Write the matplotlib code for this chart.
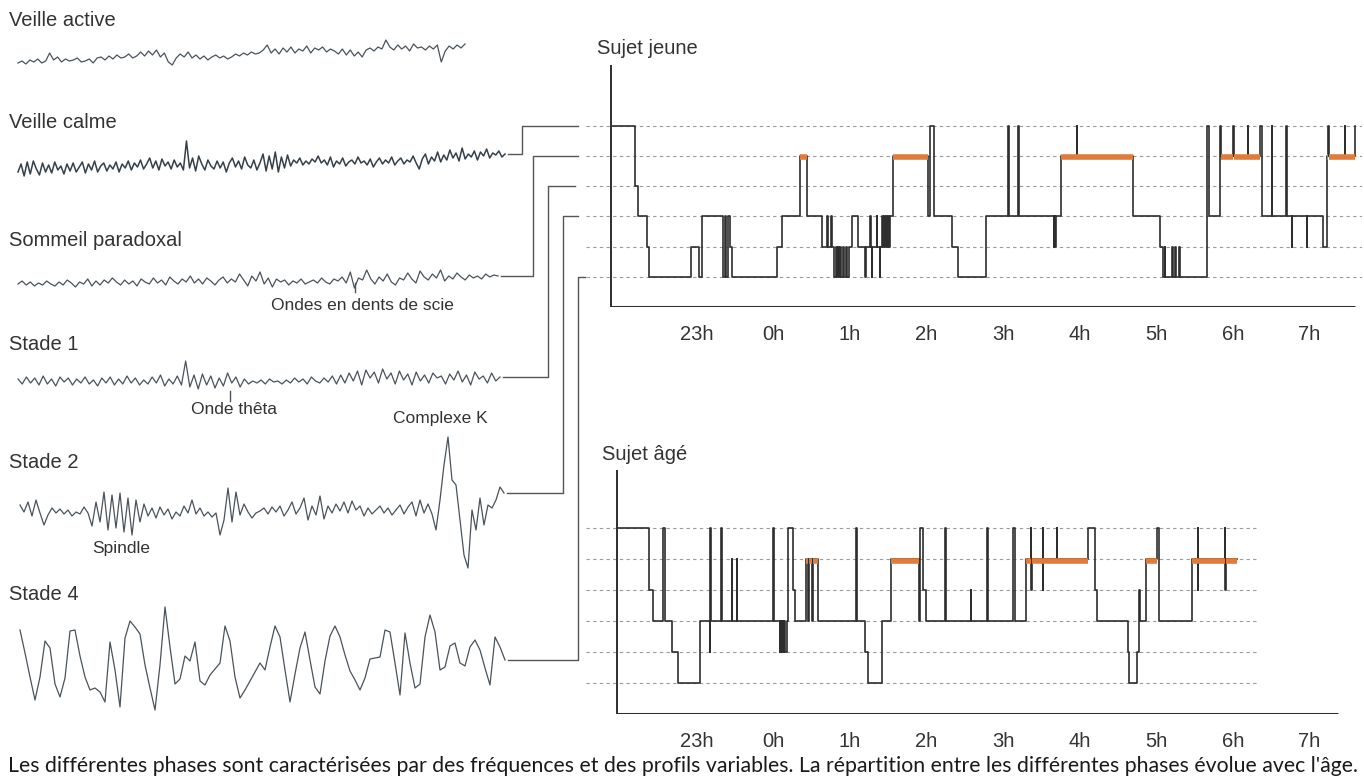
"""
EEG des phases de veille / sommeil et hypnogrammes (sujet jeune / sujet âgé).
"""
import matplotlib
matplotlib.use('Agg')
import matplotlib.pyplot as plt
import numpy as np

W, H = 1364, 781

TEXT_COLOR = '#333333'
TRACE_COLOR = '#4a525b'
HYP_COLOR = '#2e2e2e'
REM_COLOR = '#e07b39'
DASH_COLOR = '#9a9a9a'

# ---------------------------------------------------------------------------
# EEG traces (amplitude, px units, up = positive), sampled evenly over time
# ---------------------------------------------------------------------------
VEILLE_ACTIVE = [-4, -2, -5, -1, -3, 0, -4, -2, 6, -1, 2, -3, 0, -2, -1, 1, -3, -2, 0, -4, 1,
                 2, -1, 3, 0, 4, 1, 2, 5, 1, 3, 7, 3, 8, 4, 9, 2, 6, -3, -6, 1,
                 5, 2, 7, 1, 4, 0, 3, -1, 2, 4, 1, 3, 0, 2, 5, 3, 6, 4, 7, 5, 6, 9, 14, 6,
                 10, 5, 11, 7, 12, 6, 10, 8, 13, 6, 11, 9, 12, 7, 10, 8, 5, 10, 4, 9, 3, 7, 2,
                 9, 11, 8, 12, 10, 19, 12, 9, 14, 10, 13, 8, 15, 11, 12, 9, 13, 10, 14,
                 -3, 8, 13, 10, 14, 11, 15]

VEILLE_CALME = [-6, 2, -10, 4, -8, 5, -3, -9, 3, -6, 1, -7, 4, -4, 0, -8, 2, -5, 3, -6,
                -1, 4, -7, 2, -4, 5, -6, 0, 3, -5, 1, -3, 4, -6, 2, -2, 5, -4, 3, -1,
                6, -3, 2, 8, -2, 5, -4, 7, 0, 4, -3, 6, -1, 3, -4, 25, -2, 8, -5, 10,
                2, -4, 6, 0, -3, 5, -2, 4, -6, 3, 8, -1, 5, -3, 9, 1, -2, 6, -4, 3,
                12, -5, 10, -3, 14, -6, 9, -2, 11, 0, 6, 3, 8, 1, 5, 2, 7, 4, 10, 3,
                6, 1, 9, -1, 5, 2, 8, 0, 4, 6, 2, 9, 3, 5, 1, 7, -1, 4, 8, 2,
                6, 3, 9, 1, 5, 8, 2, 6, 4, 10, 3, -3, 7, 12, 2, 9, 5, 14, 4, 11,
                6, 16, 8, 13, 5, 18, 7, 12, 9, 15, 6, 14, 10, 17, 8, 13, 11, 15, 9, 12]

SOMMEIL_PARADOXAL = [-2, 1, -3, 0, -4, -1, -3, 1, -2, -4, 0, -3, 2, -1, -5, 0, -2, 3, -4, 1,
                     -3, 2, -1, 4, 0, -3, 2, -2, 1, -4, 3, 0, -2, 4, -1, 2, -3, 5, 1, -2,
                     3, 0, 6, -1, 3, -2, 4, 1, -3, 2, 5, -1, 3, 0, 8, 2, -4, 6, 1, 10,
                     -2, 4, -5, 3, 0, 2, -3, 1, -1, 3, -2, 0, 2, -1, 4, 0, -2, 3, 1, 5,
                     -1, 10, -6, 4, 2, 12, 3, -2, 5, 1, 8, 0, -3, 4, 2, 9, 3, -1, 11, 5,
                     2, 8, 4, 12, 1, 6, 3, 9, 5, 2, 7, 4, 6, 3, 8, 5, 7, 6]

STADE_1 = [2, -3, 4, -2, 3, -4, 5, -3, 2, -5, 4, -1, 3, -4, 2, -2, 4, -3, 1, -5,
           3, -2, 4, -4, 2, -3, 5, -2, 3, -4, 1, -3, 4, -2, 6, -5, 2, -3, 5, -4,
           20, -6, 6, -8, 7, -4, 5, -7, 3, -5, 8, -2, 4, -6, 2, -3, 0, -2, 1, -3,
           2, -1, 0, -3, 1, -2, 3, -1, 2, -3, 4, 0, -2, 3, -1, 5, -3, 6, -2, 8,
           0, 10, -4, 11, 3, 9, -2, 12, 2, 8, -3, 10, 1, 7, -4, 9, 0, 6, -2, 8,
           3, 5, -3, 7, 1, 10, -1, 6, -4, 9, 2, 5, -2, 8, 0, 4]

STADE_2 = [5, -2, 8, -6, 10, -3, -15, -5, 2, -3, 1, -4, 0, -6, -2, -4, 3, -3, -16, 8,
           -12, 18, -20, 15, -18, 17, -22, 12, -25, 10, -12, 6, -6, 2, -8, 3, -5, 1, -9, -2,
           -6, 4, -3, 10, -4, 2, -6, -2, -7, -3, -25, -10, 22, -12, 18, -5, 6, -2, -8, -3,
           -1, 2, -4, 3, -2, 4, -6, 0, 8, -4, 2, 12, -10, 4, -5, 14, -9, 4, -3, 6,
           -1, 8, -3, 9, 0, 4, -6, 2, -4, 0, 4, -3, 2, -5, 0, 5, -4, 3, 8, -6,
           10, -3, 6, -4, -20, 10, 45, 73, 30, 25, -10, -45, -58, 0, -20, 12, -15, 5, 2, 10,
           23, 17]

STADE_4 = [30, 7, -17, -40, -17, 19, 12, -24, -37, -18, 29, 30, 4, -17, -30, -28, -32, -42, 18, -10,
           -47, 22, 39, 33, 26, -5, -28, -50, -5, 53, 13, -24, -19, 4, -1, 18, -21, -25, -15, -9,
           -3, 34, 19, -17, -38, -30, -21, -12, -3, -10, 13, 34, 23, -10, -42, -14, 12, 28, 0, -27,
           -34, -1, 24, 34, 23, 5, -11, -20, -30, -18, 1, 2, 3, 30, 28, -3, -35, 27, -3, -28,
           -24, 23, 45, 28, -10, -7, 14, 17, -3, -6, 13, 20, 10, -8, -25, 23, 13, 0]

# label, samples, label y, trace x start, x end, trace baseline y, colour, width
EEG_ROWS = [
    ('Veille active', VEILLE_ACTIVE, 20, 18, 465, 59, TRACE_COLOR, 0.9),
    ('Veille calme', VEILLE_CALME, 123, 18, 505, 166, '#34404a', 1.1),
    ('Sommeil paradoxal', SOMMEIL_PARADOXAL, 240, 18, 498, 282, TRACE_COLOR, 0.9),
    ('Stade 1', STADE_1, 345, 18, 500, 381, TRACE_COLOR, 0.9),
    ('Stade 2', STADE_2, 463, 20, 504, 510, TRACE_COLOR, 0.9),
    ('Stade 4', STADE_4, 595, 20, 505, 660, TRACE_COLOR, 0.9),
]

# ---------------------------------------------------------------------------
# Hypnograms: time in hours after 22h, stage 0 = stade 4 ... 4 = paradoxal, 5 = veille
# ---------------------------------------------------------------------------
JEUNE_T = [-0.11, 0.196, 0.239, 0.348, 0.378, 0.923, 1.035, 1.066, 1.349, 1.372, 1.384, 1.405,
           1.43, 1.458, 2.045, 2.111, 2.35, 2.437, 2.633, 2.70, 2.71, 2.76, 2.77, 2.80, 2.815,
           2.83, 2.845, 2.86, 2.875, 2.89, 2.91, 2.93, 2.95, 2.97, 2.985, 3.024, 3.11, 3.2, 3.21,
           3.265, 3.275, 3.285, 3.295, 3.35, 3.36, 3.39, 3.40, 3.42, 3.43, 3.45, 3.46, 3.475,
           3.485, 3.50, 3.51, 3.52, 3.568, 4.025, 4.045, 4.1, 4.33, 4.417, 4.778, 5.07, 5.078,
           5.20, 5.215, 5.665, 5.672, 5.685, 5.695, 5.753, 5.962, 5.966, 6.701, 7.05, 7.093,
           7.11, 7.12, 7.20, 7.215, 7.24, 7.26, 7.30, 7.31, 7.659, 7.69, 7.833, 7.85, 8.007,
           8.012, 8.2, 8.205, 8.355, 8.377, 8.507, 8.512, 8.70, 8.705, 8.77, 8.775, 8.966, 8.97,
           9.182, 9.225, 9.247, 9.252, 9.464, 9.468, 9.595, 9.60]
JEUNE_STADE = [5, 3, 2, 1, 0, 1, 0, 2, 0, 2, 0, 2,
               1, 0, 1, 2, 4, 2, 1, 2, 1, 2, 1, 0, 1,
               0, 1, 0, 1, 0, 1, 0, 1, 0, 1, 2, 1, 0, 1,
               2, 1, 0, 1, 2, 1, 0, 1, 2, 1, 2, 1, 2,
               1, 2, 1, 2, 4, 2, 5, 2, 1, 0, 2, 5, 2,
               5, 2, 1, 2, 1, 2, 4, 5, 4, 2, 1, 0,
               1, 0, 1, 0, 1, 0, 1, 0, 5, 2, 5, 4, 5,
               4, 5, 4, 5, 2, 5, 2, 5, 2, 1, 2, 1, 2,
               1, 4, 5, 4, 5, 4, 5, 5]

AGE_T = [-0.022, 0.383, 0.435, 0.566, 0.59, 0.676, 0.763, 1.044, 1.175, 1.18, 1.185, 1.32,
         1.335, 1.457, 1.462, 1.523, 1.528, 2.001, 2.006, 2.088, 2.095, 2.11, 2.12, 2.135,
         2.145, 2.16, 2.175, 2.197, 2.253, 2.284, 2.428, 2.46, 2.472, 2.51, 2.524, 2.589,
         3.081, 3.088, 3.198, 3.242, 3.416, 3.534, 3.905, 3.917, 3.96, 4.0, 4.243, 4.25,
         4.58, 4.585, 4.795, 4.80, 5.135, 5.16, 5.30, 5.366, 5.37, 5.375, 5.518, 5.522,
         5.527, 5.70, 5.705, 6.114, 6.20, 6.232, 6.636, 6.649, 6.754, 6.78, 6.785, 6.867,
         7.006, 7.041, 7.463, 7.54, 7.545, 7.55, 7.898, 7.903, 7.908, 8.05]
AGE_STADE = [5, 3, 2, 5, 2, 1, 0, 2, 1, 5, 2, 5,
             2, 4, 2, 4, 2, 5, 2, 1, 2, 1, 2, 1,
             2, 1, 2, 5, 3, 2, 4, 2, 4, 2, 4, 2,
             5, 2, 1, 0, 2, 4, 2, 5, 3, 2, 5, 2,
             3, 2, 5, 2, 5, 2, 4, 5, 3, 4, 5, 3,
             4, 5, 4, 5, 3, 2, 1, 0, 1, 3, 2, 4,
             5, 2, 4, 5, 3, 4, 5, 3, 4, 4]

HOUR_TICKS = [1, 2, 3, 4, 5, 6, 7, 8, 9]
HOUR_LABELS = ['23h', '0h', '1h', '2h', '3h', '4h', '5h', '6h', '7h']

CAPTION = ("Les différentes phases sont caractérisées par des fréquences et des profils "
           "variables. La répartition entre les différentes phases évolue avec l'âge.")

LABEL_FONT = 'Liberation Sans'

fig = plt.figure(figsize=(W / 100, H / 100), dpi=100)
fig.patch.set_facecolor('white')

# full-figure canvas in pixel units for the EEG panel and the connectors
canvas = fig.add_axes([0, 0, 1, 1])
canvas.set_xlim(0, W)
canvas.set_ylim(H, 0)
canvas.axis('off')

# =========================================================================
# Left panel: EEG traces
# =========================================================================
trace_ends = []
for label, samples, label_y, x0, x1, base_y, color, lw in EEG_ROWS:
    vals = np.asarray(samples, dtype=float)
    xs = np.linspace(x0, x1, len(vals))
    canvas.plot(xs, base_y - vals, color=color, lw=lw, solid_joinstyle='round')
    canvas.text(9, label_y, label, fontsize=14.5, family=LABEL_FONT, color=TEXT_COLOR,
                va='center', ha='left')
    trace_ends.append((x1, base_y - vals[-1]))

small = dict(fontsize=12.5, family=LABEL_FONT, color=TEXT_COLOR, ha='center', va='center')
canvas.plot([355, 355], [283, 292], color=TRACE_COLOR, lw=1)
canvas.text(362, 305, 'Ondes en dents de scie', **small)
canvas.plot([230, 230], [391, 401], color=TRACE_COLOR, lw=1)
canvas.text(234, 409, 'Onde thêta', **small)
canvas.text(440, 419, 'Complexe K', **small)
canvas.text(121, 548, 'Spindle', **small)

# =========================================================================
# Right panel: hypnograms
# =========================================================================
X0_PX, X1_PX = 583, 1362
XLIM = (-0.483, 9.687)


def hypnogram(top_px, bottom_px, ymax, times, stages, axis_t, base_end, dash_end,
              title, title_xy):
    ax = fig.add_axes([X0_PX / W, 1 - bottom_px / H, (X1_PX - X0_PX) / W,
                       (bottom_px - top_px) / H])
    ax.patch.set_visible(False)
    ax.set_xlim(*XLIM)
    ax.set_ylim(-1, ymax)
    for s in ax.spines.values():
        s.set_visible(False)
    ax.set_yticks([])

    ax.hlines(range(6), -0.45, dash_end, colors=DASH_COLOR, lw=0.8,
              linestyles=(0, (3, 3)), zorder=1)
    ax.plot([axis_t, axis_t], [-1, ymax], color=HYP_COLOR, lw=1.4, zorder=3)
    ax.plot([axis_t, base_end], [-1, -1], color=HYP_COLOR, lw=2.2, zorder=3,
            solid_capstyle='butt')

    ax.step(times, stages, where='post', color=HYP_COLOR, lw=1.2, zorder=4)
    # REM (paradoxal) episodes highlighted in orange
    for i in range(len(times) - 1):
        if stages[i] == 4:
            ax.plot([times[i], times[i + 1]], [3.95, 3.95], color=REM_COLOR, lw=4,
                    solid_capstyle='butt', zorder=5)

    ax.set_xticks(HOUR_TICKS)
    ax.set_xticklabels(HOUR_LABELS, family=LABEL_FONT, fontsize=14.5, color=TEXT_COLOR)
    ax.tick_params(axis='x', length=0, pad=13)
    canvas.text(title_xy[0], title_xy[1], title, fontsize=14.5, family=LABEL_FONT,
                color=TEXT_COLOR, va='center', ha='left')
    return ax


hyp_young = hypnogram(65, 307, 7.0, JEUNE_T, JEUNE_STADE, -0.117, 9.595, 9.687,
                      'Sujet jeune', (597, 49))
hyp_old = hypnogram(470, 714, 6.87, AGE_T, AGE_STADE, -0.04, 9.378, 8.33,
                    'Sujet âgé', (602, 455))


def level_y(ax, level):
    disp = ax.transData.transform((0, level))
    return canvas.transData.inverted().transform(disp)[1]


# connectors from traces to stage levels: (trace row, stage level, riser x, end x)
CONNECTORS = [(1, 5, 522, 578), (2, 4, 533, 578), (3, 3, 548, 575),
              (4, 2, 563, 578), (5, 0, 578, 585)]
for row, level, riser_x, end_x in CONNECTORS:
    x_end, y_end = trace_ends[row]
    y_lvl = level_y(hyp_young, level)
    canvas.plot([x_end + 3, riser_x, riser_x, end_x], [y_end, y_end, y_lvl, y_lvl],
                color='#555555', lw=1.0)

# =========================================================================
# Caption
# =========================================================================
cap = canvas.text(8, 766, CAPTION, fontsize=13, family='Lato', color='#1a1a1a',
                  va='center', ha='left')
fig.canvas.draw()
width = cap.get_window_extent().width
cap.set_fontsize(13 * 1349 / width)

fig.savefig('out.png', dpi=100, facecolor='white')
